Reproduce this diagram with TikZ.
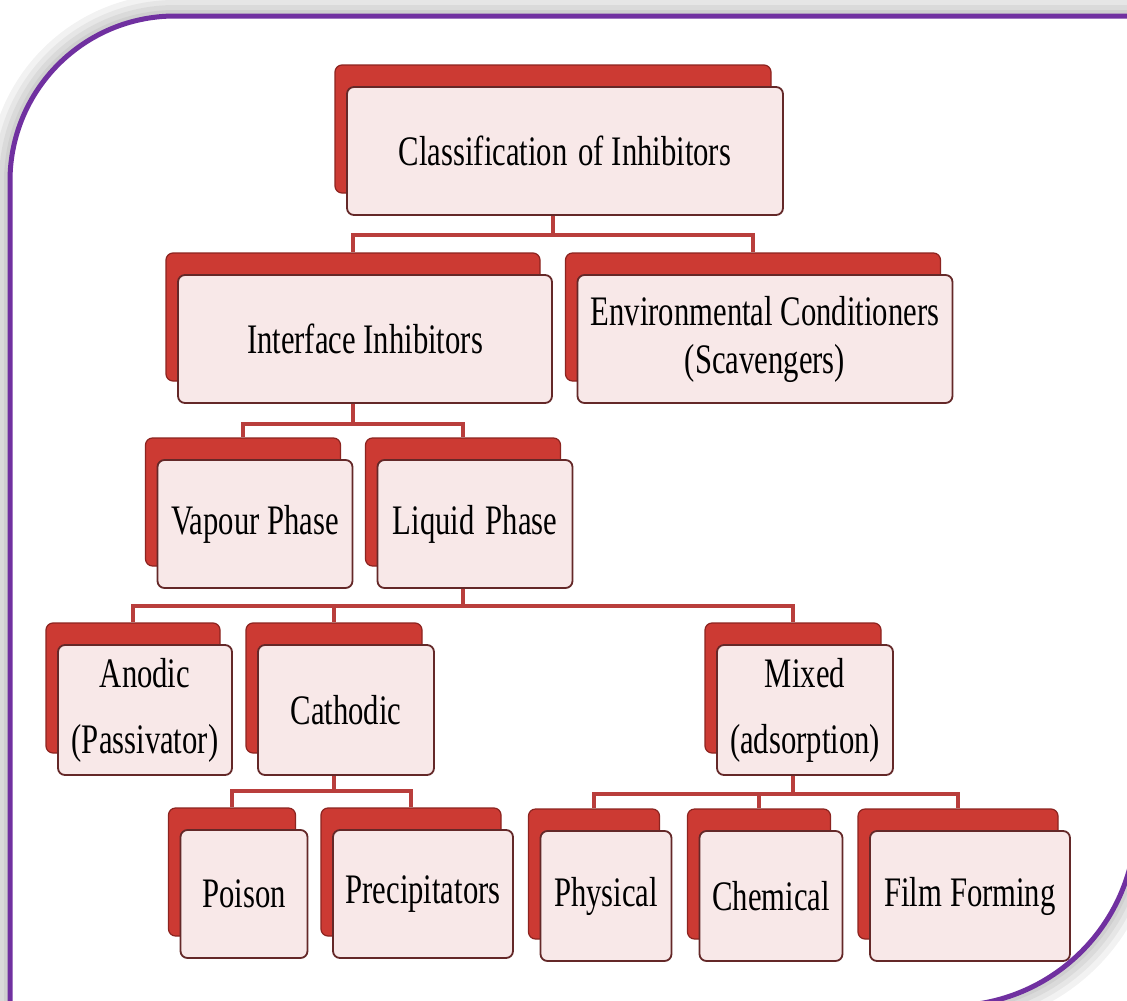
\documentclass[tikz,border=0pt]{standalone}
\usepackage{fontspec}
\setmainfont[FakeStretch=0.73]{Liberation Serif}
\usepackage{xcolor}
\usetikzlibrary{shadows}
\definecolor{framepurple}{RGB}{112,48,160}
\definecolor{backred}{RGB}{204,58,51}
\definecolor{backedge}{RGB}{140,36,32}
\definecolor{frontfill}{RGB}{248,232,232}
\definecolor{frontedge}{RGB}{100,40,40}
\definecolor{linkred}{RGB}{185,62,60}

\begin{document}
\begin{tikzpicture}[x=1pt,y=-1pt,
    box/.style={draw=frontedge,line width=1.8pt,fill=frontfill,rounded corners=7pt,
        inner sep=0pt,align=center,minimum height=128pt,
        font=\fontsize{42}{48}\selectfont,
        general shadow={fill=backred,draw=backedge,line width=1.2pt,
            shadow xshift=-12pt,shadow yshift=22pt}},
    link/.style={draw=linkred,line width=4.5pt}]
    \useasboundingbox (0,0) rectangle (1127,1001);

    \path[save path=\framep] (10,1040) -- (10,181)
        arc[start angle=180,end angle=90,radius=165pt] -- (1136,16) -- (1136,820)
        arc[start angle=0,end angle=-90,radius=186pt] -- (10,1006) -- cycle;
    \foreach \w in {44,32,22,12}
        \draw[use path=\framep,black,opacity=0.05,line width=\w pt];
    \fill[use path=\framep,white];
    \draw[use path=\framep,framepurple,line width=5pt];

    \node[box,minimum width=436pt] (root) at (565,151) {Classification\hspace{0.08em} of Inhibitors};
    \node[box,minimum width=374pt] (inter) at (365,339) {Interface Inhibitors};
    \node[box,minimum width=375pt] (env) at (765,339) {Environmental Conditioners\\(Scavengers)};
    \node[box,minimum width=195pt] (vap) at (255,524) {Vapour Phase};
    \node[box,minimum width=195pt] (liq) at (475,524) {Liquid\hspace{0.08em} Phase};
    \node[box,minimum width=174pt,minimum height=130pt] (anod) at (145,710) {Anodic\\[18pt](Passivator)};
    \node[box,minimum width=176pt,minimum height=130pt] (cath) at (346,710) {Cathodic};
    \node[box,minimum width=176pt,minimum height=130pt] (mixed) at (805,710) {Mixed\\[18pt](adsorption)};
    \node[box,minimum width=127pt] (poison) at (244,894) {Poison};
    \node[box,minimum width=180pt] (precip) at (423,894) {Precipitators};
    \node[box,minimum width=131pt,minimum height=130pt] (phys) at (606,896) {Physical};
    \node[box,minimum width=143pt,minimum height=130pt] (chem) at (771,896) {Chemical};
    \node[box,minimum width=200pt,minimum height=130pt] (film) at (970,896) {Film Forming};

    \foreach \a/\b/\d in {root/inter/19, root/env/19, inter/vap/20, inter/liq/20,
        liq/anod/17, liq/cath/17, liq/mixed/17, cath/poison/15, cath/precip/15,
        mixed/phys/18, mixed/chem/18, mixed/film/18}
        \draw[link] ([xshift=-12pt]\a.south) -- ++(0,\d) -| ([shift={(-12pt,22pt)}]\b.north);
\end{tikzpicture}
\end{document}
